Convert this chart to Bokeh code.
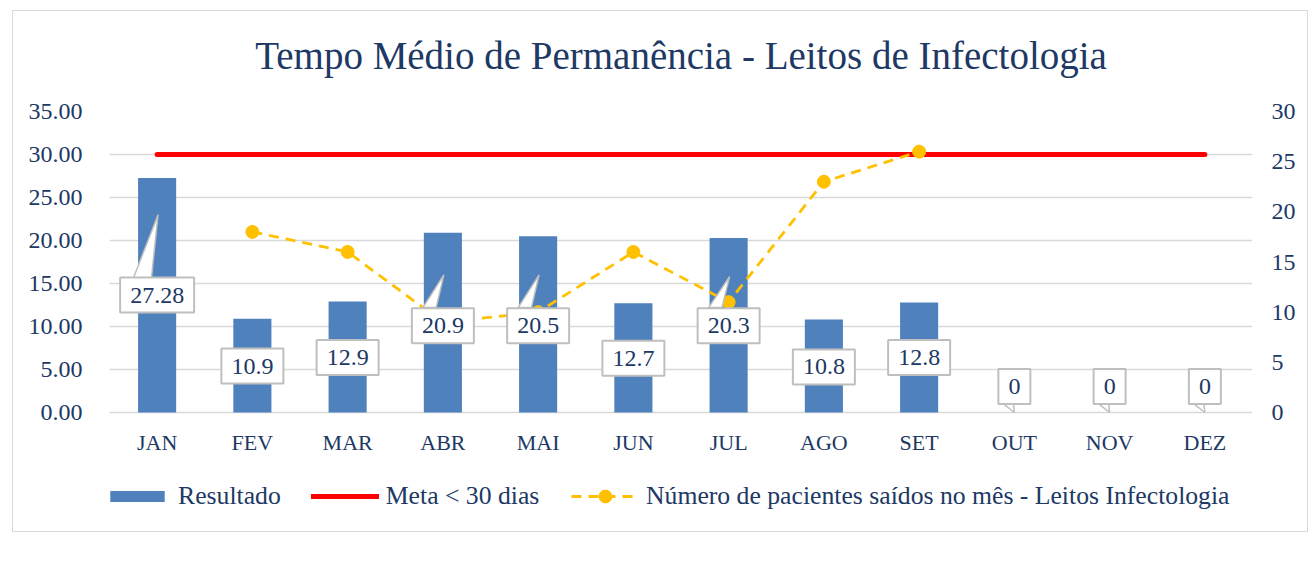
from bokeh.plotting import figure
from bokeh.models import (Range1d, FactorRange, LinearAxis, FixedTicker, Legend, LegendItem,
                          ColumnDataSource, NumeralTickFormatter, Title)
from bokeh.core.properties import value
from bokeh.embed import file_html
from bokeh.resources import INLINE

# ---------------- data ----------------
months = ["JAN", "FEV", "MAR", "ABR", "MAI", "JUN", "JUL", "AGO", "SET", "OUT", "NOV", "DEZ"]
resultado = [27.28, 10.9, 12.9, 20.9, 20.5, 12.7, 20.3, 10.8, 12.8, 0, 0, 0]
resultado_labels = ["27.28", "10.9", "12.9", "20.9", "20.5", "12.7", "20.3", "10.8", "12.8", "0", "0", "0"]
meta = [30] * 12
pacientes = [None, 18, 16, 9, 10, 16, 11, 23, 26, None, None, None]
left_ticks = [0, 5, 10, 15, 20, 25, 30, 35]
right_ticks = [0, 5, 10, 15, 20, 25, 30]

# ---------------- layout ----------------
W, H = 1296, 522
TOP, BOTTOM, LEFT, RIGHT = 100, 4, 96, 57
ZERO_PX = 301                       # pixels from 0 to 35 on the left axis
frame_h = H - TOP - BOTTOM
y_low = -(frame_h - ZERO_PX) * 35 / ZERO_PX
label_y = [13.66, 5.4, 6.4, 10.1, 10.1, 6.3, 10.1, 5.3, 6.4, 3.02, 3.02, 3.02]
month_label_y = -3.5

FONT = "Liberation Serif"
NAVY = "#203864"
GRID = "#d9d9d9"

p = figure(width=W, height=H, x_range=FactorRange(*months, range_padding=0),
           y_range=Range1d(y_low, 35), output_backend="svg", toolbar_location=None,
           x_axis_location=None,
           min_border_left=LEFT, min_border_right=RIGHT, min_border_top=TOP, min_border_bottom=BOTTOM,
           background_fill_color="white", border_fill_color="white", outline_line_color=None)
p.styles = {"border": "1px solid #d9d9d9", "margin-left": "12px", "margin-top": "10px"}

p.title.text = "Tempo Médio de Permanência - Leitos de Infectologia"
p.title.text_font = FONT
p.title.text_font_size = "39px"
p.title.text_font_style = "normal"
p.title.text_color = NAVY
p.title.align = "center"
p.title.offset = 0
p.title.standoff = 10
# spacer between title and plot area
p.add_layout(Title(text=" ", text_font_size="1px", standoff=27), "above")

p.extra_y_ranges = {"right": Range1d(y_low * 30 / 35, 30)}

# left axis
lax = p.yaxis[0]
lax.ticker = FixedTicker(ticks=left_ticks)
lax.formatter = NumeralTickFormatter(format="0.00")
lax.axis_line_color = None
lax.major_tick_line_color = None
lax.minor_tick_line_color = None
lax.major_label_text_font = FONT
lax.major_label_text_font_size = "24px"
lax.major_label_text_color = NAVY
lax.major_label_standoff = 21

rax = LinearAxis(y_range_name="right", ticker=FixedTicker(ticks=right_ticks))
rax.axis_line_color = None
rax.major_tick_line_color = None
rax.minor_tick_line_color = None
rax.major_label_text_font = FONT
rax.major_label_text_font_size = "24px"
rax.major_label_text_color = NAVY
rax.major_label_standoff = 13
p.add_layout(rax, "right")

p.xgrid.grid_line_color = None
p.ygrid.grid_line_color = GRID
p.ygrid.grid_line_width = 1.5
p.ygrid.ticker = FixedTicker(ticks=left_ticks)

src = ColumnDataSource(dict(m=months, r=resultado, meta=meta,
                            pac=[float("nan") if v is None else v for v in pacientes],
                            lab=resultado_labels, ly=label_y, my=[month_label_y] * len(months)))

bars = p.vbar(x="m", top="r", width=0.4, source=src, fill_color="#4F81BD", line_color=None)
meta_line = p.line(x="m", y="meta", source=src, line_color="#FF0000", line_width=5, line_cap="round")
pac_line = p.line(x="m", y="pac", source=src, y_range_name="right", line_color="#FFC000",
                  line_width=2.8, line_dash="10 7")
pac_pts = p.scatter(x="m", y="pac", source=src, y_range_name="right", size=13,
                    fill_color="#FFC000", line_color="#FFC000")

# month labels (category axis)
p.text(x="m", y="my", text="m", source=src, text_font=value(FONT), text_font_size="22px",
       text_color=NAVY, text_align="center", text_baseline="middle")

# callout pointers (numeric x: category centre = i + 0.5)
up_ptr = {0: (15.6, 23.0, -0.25, -0.06), 3: (12.2, 16.0, -0.21, -0.07),
          4: (12.2, 16.0, -0.21, -0.07), 6: (12.2, 15.8, -0.21, -0.07)}
xs, ys = [], []
for i, (base, tip, b0, b1) in up_ptr.items():
    c = i + 0.5
    xs.append([c + b0, c + b1, c + 0.01])
    ys.append([base, base, tip])
for i in [9, 10, 11]:
    c = i + 0.5
    xs.append([c - 0.115, c - 0.01, c + 0.0])
    ys.append([1.0, 1.0, 0])
p.patches(xs=xs, ys=ys, fill_color="white", line_color="#bfbfbf", line_width=1.5)

p.text(x="m", y="ly", text="lab", source=src, text_font=value(FONT), text_font_size="24px",
       text_color=NAVY, text_align="center", text_baseline="middle",
       background_fill_color="white", border_line_color="#bfbfbf", border_line_width=2,
       padding=(10, 10))

common = dict(orientation="horizontal", border_line_color=None, background_fill_alpha=0,
              label_text_font=FONT, label_text_font_size="25.7px", label_text_color=NAVY,
              glyph_width=68, spacing=30, label_standoff=7, padding=0, margin=0)
legend1 = Legend(items=[LegendItem(label="Resultado", renderers=[bars]),
                        LegendItem(label="Meta < 30 dias", renderers=[meta_line])],
                 location=(-6, 18), glyph_height=14, **common)
legend2 = Legend(items=[LegendItem(label="Número de pacientes saídos no mês - Leitos Infectologia",
                                   renderers=[pac_line, pac_pts])],
                 location=(462, 17), glyph_height=32, **common)
p.add_layout(legend1, "center")
p.add_layout(legend2, "center")

open("out.html", "w").write(file_html(p, INLINE))
